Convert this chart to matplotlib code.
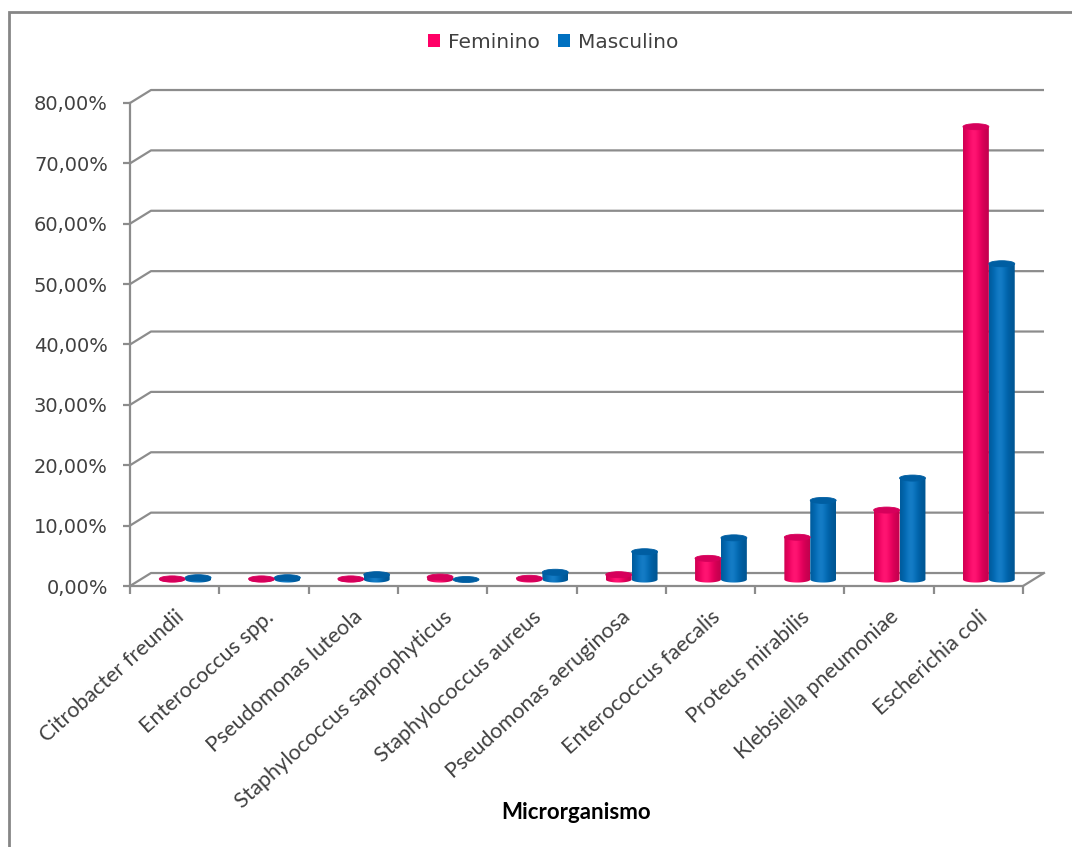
import numpy as np
import matplotlib.pyplot as plt
from matplotlib.patches import Ellipse, PathPatch, Patch, Rectangle
from matplotlib.path import Path
from matplotlib.colors import to_rgb

categories = ['Citrobacter freundii', 'Enterococcus spp.', 'Pseudomonas luteola',
              'Staphylococcus saprophyticus', 'Staphylococcus aureus',
              'Pseudomonas aeruginosa', 'Enterococcus faecalis', 'Proteus mirabilis',
              'Klebsiella pneumoniae', 'Escherichia coli']
feminino = [0.1, 0.1, 0.1, 0.4, 0.2, 0.8, 3.5, 7.0, 11.5, 75.0]
masculino = [0.3, 0.3, 0.8, 0.0, 1.2, 4.6, 6.9, 13.1, 16.8, 52.3]
series_names = ['Feminino', 'Masculino']
yticks = np.arange(0, 81, 10)

colors = ['#ff0066', '#0070c0']
top_colors = ['#d6005b', '#005ea2']
grid_col = '#8c8c8c'
text_col = '#404040'

W, H = 1072, 847
fig = plt.figure(figsize=(W / 100, H / 100), dpi=100)
ax = fig.add_axes([130 / W, 1 - 586 / H, (1023 - 130) / W, (586 - 103) / H])
ax.set_xlim(0, 10)
ax.set_ylim(0, 80)
ax.patch.set_alpha(0)

# depth of the 3d box (back wall offset)
dx = 21 / 89.3
dy = 2.15

# side wall diagonals + back wall gridlines
for v in yticks:
    ax.plot([0, dx, 10 + dx], [v, v + dy, v + dy], color=grid_col, lw=1.6,
            clip_on=False, zorder=0, solid_capstyle='butt')
ax.plot([10, 10 + dx], [0, dy], color=grid_col, lw=1.6, clip_on=False, zorder=0)


def shade(base, n=64):
    t = np.linspace(0, 1, n)
    s = np.exp(-((t - 0.42) / 0.38) ** 2)
    f = 0.74 + 0.26 * s
    rgb = np.array(to_rgb(base))
    img = rgb[None, :] * f[:, None]
    img = img + (1 - img) * (0.08 * s ** 4)[:, None]
    return img[None, :, :]


def cylinder(cx, w, base, top, eh, col, top_col):
    x0, x1 = cx - w / 2, cx + w / 2
    if top > base:
        th = np.linspace(np.pi, 2 * np.pi, 40)
        verts = [(x0, top), (x0, base)]
        verts += list(zip(cx + w / 2 * np.cos(th), base + eh * np.sin(th)))
        verts += [(x1, top), (x0, top)]
        path = Path(verts, closed=True)
        clip = PathPatch(path, transform=ax.transData, facecolor='none',
                         edgecolor='none')
        ax.add_patch(clip)
        im = ax.imshow(shade(col), extent=[x0, x1, base - eh, top], aspect='auto',
                       origin='lower', interpolation='bilinear', zorder=2)
        im.set_clip_path(clip)
    ax.add_patch(Ellipse((cx, top), w, 2 * eh, facecolor=top_col,
                         edgecolor=top_col, lw=0.6, zorder=3))


bw = 0.29
eh = 0.5
for i in range(len(categories)):
    cx = i + 0.5 + dx / 2
    base = dy / 2
    for k, vals in enumerate([feminino, masculino]):
        xc = cx + (k - 0.5) * bw
        cylinder(xc, bw, base, base + vals[i], eh, colors[k], top_colors[k])

ax.set_xlim(0, 10)
ax.set_ylim(0, 80)

for side in ['top', 'right']:
    ax.spines[side].set_visible(False)
for side in ['left', 'bottom']:
    ax.spines[side].set_color(grid_col)
    ax.spines[side].set_linewidth(1.6)
    ax.spines[side].set_zorder(1)

ax.set_yticks(yticks)
ax.set_yticklabels([f'{v},00%' for v in yticks], fontsize=14, color=text_col)
ax.tick_params(axis='y', length=5, width=1.6, color=grid_col, pad=11)

ax.set_xticks(np.arange(0, 11))
ax.set_xticklabels([])
ax.tick_params(axis='x', which='major', length=6, width=1.6, color=grid_col)
ax.set_xticks(np.arange(10) + 0.5, minor=True)
ax.set_xticklabels(categories, minor=True, rotation=42, ha='right', va='top',
                   rotation_mode='anchor', fontsize=15.5, family='Lato',
                   color=text_col)
ax.tick_params(axis='x', which='minor', length=0, pad=15)

fig.text(576 / W, 1 - 812 / H, 'Microrganismo', ha='center', va='center',
         fontsize=16, family='Lato', fontweight='bold', color='black')

handles = [Patch(facecolor=c, edgecolor='none') for c in colors]
fig.legend(handles, series_names, loc='center', bbox_to_anchor=(553 / W, 1 - 42 / H),
           ncol=2, frameon=False, fontsize=14.5, labelcolor=text_col,
           handlelength=0.6, handleheight=0.6, handletextpad=0.4, columnspacing=0.9)

fig.patches.append(Rectangle((9 / W, -0.1), 1.2, 1.1 - 12 / H, transform=fig.transFigure,
                             fill=False, edgecolor='#868686', lw=2))

fig.savefig('out.png', dpi=100)
